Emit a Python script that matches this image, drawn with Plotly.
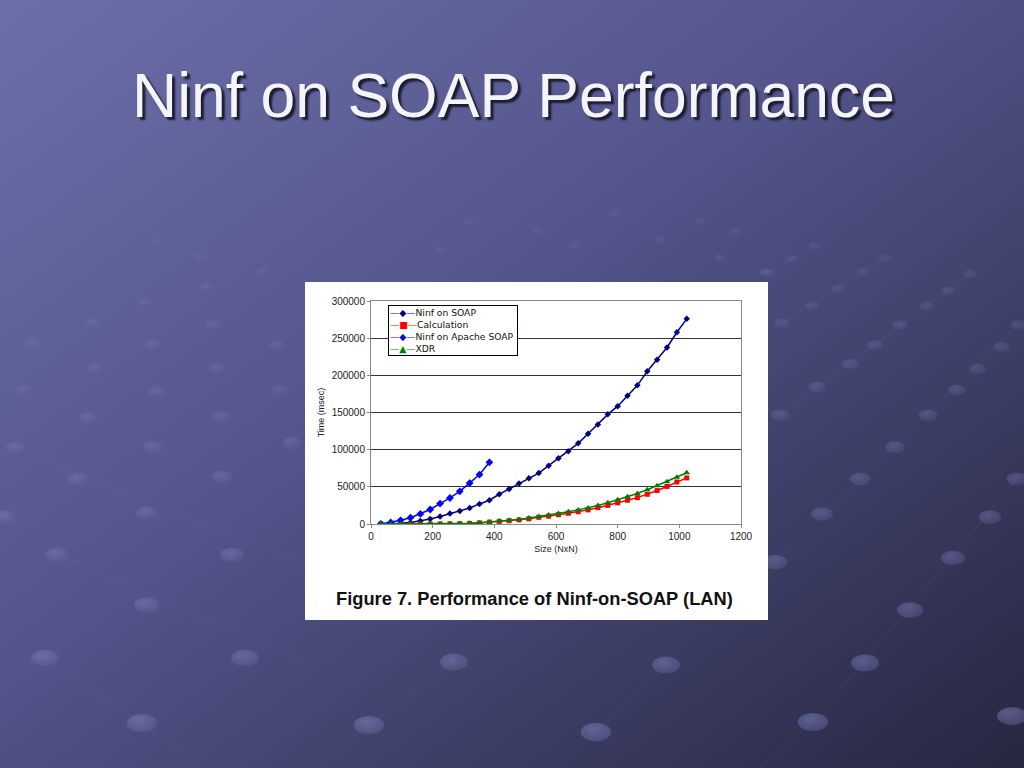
import base64
import plotly.graph_objects as go

# ---- data ----
sizes = [32, 64, 96, 128, 160, 192, 224, 256, 288, 320, 352, 384, 416, 448, 480, 512,
         544, 576, 608, 640, 672, 704, 736, 768, 800, 832, 864, 896, 928, 960, 992, 1024]
ninf_soap = [0, 300, 1000, 2000, 4000, 6700, 10000, 14000, 17500, 21500, 27000, 32000,
             40000, 47000, 54500, 61500, 68500, 78500, 88500, 98000, 108500, 121500,
             134000, 147500, 158500, 172500, 186500, 205500, 221000, 237500, 258000, 276000]
calculation = [0, 0, 0, 0, 0, 50, 100, 300, 500, 800, 1500, 2500, 3500, 4500, 5500, 7000,
               9000, 10500, 12500, 14500, 16500, 19000, 22000, 25000, 28500, 32000, 35500,
               40000, 45000, 50500, 56500, 62000]
apache_sizes = [32, 64, 96, 128, 160, 192, 224, 256, 288, 320, 352, 384]
apache_soap = [0, 2000, 5000, 8500, 13500, 19500, 27500, 35000, 44000, 55000, 66500, 83000]
xdr = [0, 0, 0, 0, 0, 80, 150, 350, 600, 1000, 1800, 2800, 4000, 5000, 6000, 8000,
       10000, 12000, 14000, 16500, 19000, 21500, 25000, 28500, 32500, 36500, 41000,
       46000, 51500, 57000, 63000, 69000]
series_names = ["Ninf on SOAP", "Calculation", "Ninf on Apache SOAP", "XDR"]
series_colors = ["#000080", "#ff0000", "#0000ff", "#008000"]
series_symbols = ["diamond", "square", "diamond", "triangle-up"]
legend_glyphs = ["\u25c6", "\u25a0", "\u25c6", "\u25b2"]
x_ticks = [0, 200, 400, 600, 800, 1000, 1200]
y_ticks = [0, 50000, 100000, 150000, 200000, 250000, 300000]

W, H = 1024, 768

# ---- decorative slide background (gradient + dot pattern) ----
deco_dots = [
    (815, 246), (792, 259), (768, 273), (885, 258), (863, 272), (838, 289), (812, 306),
    (782, 323), (970, 274), (948, 291), (927, 306), (900, 325), (875, 345), (850, 364),
    (817, 387), (780, 415), (1018, 325), (1002, 347), (978, 369), (957, 390), (928, 415),
    (895, 447), (860, 479), (822, 514), (775, 562), (1017, 479), (990, 517), (953, 558),
    (910, 610), (865, 663), (813, 722), (1012, 716),
    (88, 418), (222, 417), (15, 448), (153, 447), (292, 443), (78, 479), (222, 477),
    (5, 517), (147, 513), (57, 555), (232, 555), (147, 605), (45, 658), (245, 658),
    (142, 723), (369, 725), (454, 662), (666, 665), (596, 732),
    (93, 323), (153, 345), (213, 325), (277, 345), (33, 343), (95, 368), (217, 368),
    (23, 390), (157, 392), (280, 390), (145, 303), (207, 287), (263, 272), (157, 242),
    (200, 257), (40, 210), (90, 200), (128, 192),
    (440, 250), (470, 223), (538, 232), (575, 246), (615, 214), (660, 240), (700, 222),
    (735, 232), (765, 272), (720, 258),
]
deco_lines = [
    ((768, 273), (815, 246)), ((782, 323), (885, 258)), ((780, 415), (970, 274)),
    ((775, 562), (1018, 325)), ((813, 722), (1017, 479)), ((760, 768), (813, 722)),
    ((15, 448), (292, 560)), ((57, 555), (300, 660)), ((45, 658), (142, 723)),
    ((142, 723), (200, 768)), ((369, 725), (454, 662)), ((596, 732), (666, 665)),
]
parts = []
for (xa, ya), (xb, yb) in deco_lines:
    parts.append(f'<line x1="{xa}" y1="{ya}" x2="{xb}" y2="{yb}" stroke="#8a8cc0" '
                 f'stroke-opacity="0.12" stroke-width="1"/>')
for cx, cy in deco_dots:
    t = max(0, cy - 180) / 590
    rx = 5 + 11 * t
    ry = rx * 0.6
    op = 0.12 + 0.45 * t
    parts.append(f'<ellipse cx="{cx}" cy="{cy}" rx="{rx:.1f}" ry="{ry:.1f}" '
                 f'fill="url(#dot)" fill-opacity="{op:.2f}"/>')
svg = f'''<svg xmlns="http://www.w3.org/2000/svg" width="{W}" height="{H}" viewBox="0 0 {W} {H}" preserveAspectRatio="none">
<defs><linearGradient id="g" x1="0" y1="0" x2="1" y2="1">
<stop offset="0" stop-color="#6d6fa9"/>
<stop offset="0.45" stop-color="#52548a"/>
<stop offset="1" stop-color="#262740"/>
</linearGradient>
<radialGradient id="dot" cx="0.4" cy="0.35" r="0.7">
<stop offset="0" stop-color="#8587bf"/>
<stop offset="1" stop-color="#5a5c92"/>
</radialGradient></defs>
<rect x="-2" y="-2" width="{W + 4}" height="{H + 4}" fill="url(#g)"/>
{''.join(parts)}
</svg>'''
bg_src = "data:image/svg+xml;base64," + base64.b64encode(svg.encode()).decode()

fig = go.Figure()

FONT = "Liberation Sans, Arial, sans-serif"
tick_font = dict(family=FONT, size=10, color="#222222")

all_x = [sizes, sizes, apache_sizes, sizes]
all_y = [ninf_soap, calculation, apache_soap, xdr]
marker_sizes = [5, 5, 6, 6]
for xs, ys, name, col, sym, ms in zip(all_x, all_y, series_names, series_colors,
                                      series_symbols, marker_sizes):
    fig.add_trace(go.Scatter(x=xs, y=ys, name=name, mode="lines+markers",
                             line=dict(color=col, width=1.5),
                             marker=dict(symbol=sym, size=ms, color=col),
                             showlegend=False))

legend_text = "<br>".join(
    f"<span style='color:{c}'>\u2014{g}\u2014</span>{n} "
    for n, c, g in zip(series_names, series_colors, legend_glyphs)
)

x0p, x1p = 371 / W, 741 / W
y0p, y1p = 1 - 524 / H, 1 - 301 / H

fig.update_layout(
    width=W, height=H, autosize=False,
    margin=dict(l=0, r=0, t=0, b=0, pad=0, autoexpand=False),
    paper_bgcolor="#4e5084",
    plot_bgcolor="white",
    showlegend=False,
    images=[dict(source=bg_src, xref="paper", yref="paper", x=0, y=1, sizex=1, sizey=1,
                 xanchor="left", yanchor="top", sizing="stretch", layer="below")],
    shapes=[dict(type="rect", xref="paper", yref="paper",
                 x0=305 / W, x1=768 / W, y0=1 - 620 / H, y1=1 - 282 / H,
                 fillcolor="white", line=dict(width=0), layer="below")],
    xaxis=dict(domain=[x0p, x1p], range=[0, 1200], tickvals=x_ticks,
               showgrid=False, zeroline=False, showline=True, linecolor="#888888",
               linewidth=1, mirror=True, ticks="outside", ticklen=3, tickcolor="#888888",
               tickfont=tick_font, automargin=False,
               title=dict(text="Size (NxN)", font=dict(family=FONT, size=9, color="#222222"),
                          standoff=4)),
    yaxis=dict(domain=[y0p, y1p], range=[0, 300000], tickvals=y_ticks,
               tickformat="d", automargin=False,
               showgrid=True, gridcolor="#333333", gridwidth=1,
               zeroline=False, showline=True, linecolor="#888888", linewidth=1, mirror=True,
               ticks="outside", ticklen=3, tickcolor="#888888",
               tickfont=tick_font,
               title=dict(text="Time (msec)", font=dict(family=FONT, size=9, color="#222222"),
                          standoff=5)),
    annotations=[
        dict(text=legend_text, xref="paper", yref="paper",
             x=388 / W, y=1 - 305 / H, xanchor="left", yanchor="top", align="left",
             showarrow=False, bgcolor="white", bordercolor="black", borderwidth=1,
             borderpad=1,
             font=dict(family="DejaVu Sans, sans-serif", size=9.2, color="#111111")),
        dict(text="Ninf on SOAP Performance", xref="paper", yref="paper",
             x=513 / W, y=1 - 95 / H, xanchor="center", yanchor="middle", showarrow=False,
             font=dict(family=FONT, size=62.5, color="#f4f4fa",
                       shadow="3px 3px 2px #1c1c30")),
        dict(text="<b>Figure 7. Performance of Ninf-on-SOAP (LAN)</b>", xref="paper",
             yref="paper", x=534 / W, y=1 - 598 / H, xanchor="center", yanchor="middle",
             showarrow=False, font=dict(family=FONT, size=18.3, color="#111111")),
    ],
)

post = """
var gd = document.getElementById('{plot_id}');
document.documentElement.style.margin = '0';
document.documentElement.style.overflow = 'hidden';
document.documentElement.style.background = '#4e5084';
document.body.style.margin = '0';
document.body.style.overflow = 'hidden';
gd.style.position = 'fixed';
gd.style.left = '0px';
gd.style.top = '0px';
return Plotly.relayout(gd, {width: 1024, height: 768});
"""

fig.write_html("out.html", config={"displayModeBar": False, "responsive": False},
               post_script=post)
